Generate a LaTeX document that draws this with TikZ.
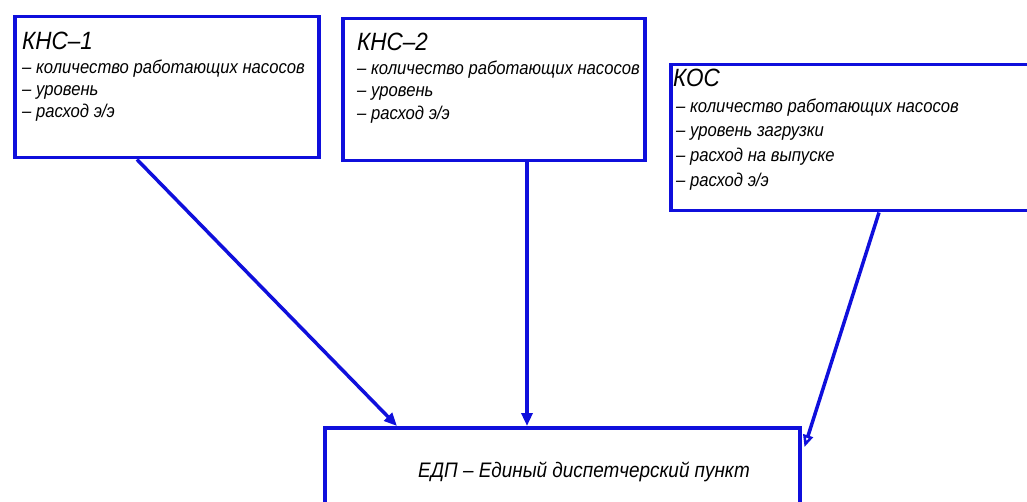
\documentclass[tikz,border=0pt]{standalone}
\usepackage{fontspec}
\setmainfont{Liberation Sans}[FakeStretch=0.9]
\usetikzlibrary{arrows.meta,calc}
\definecolor{boxblue}{RGB}{15,15,220}
\tikzset{
  box/.style={draw=boxblue, line width=3.5pt, inner sep=0pt, anchor=north west, fill=white},
  head/.style={anchor=base west, inner sep=0pt, font=\fontsize{25}{25}\selectfont\itshape},
  item/.style={anchor=base west, inner sep=0pt, font=\fontsize{18.5}{18.5}\selectfont\itshape},
  arr/.style={draw=boxblue, line width=3.5pt, -{Triangle[length=13pt,width=11pt]}},
  arro/.style={draw=boxblue, line width=3.5pt, -{Triangle[open,length=12pt,width=10pt,line width=2.5pt]}}
}
\begin{document}
\begin{tikzpicture}[x=1pt,y=-1pt]
\useasboundingbox (0,0) rectangle (1027,502);
\clip (0,0) rectangle (1027,502);
% boxes
\node[box, minimum width=304pt, minimum height=141pt] (k1) at (13,15) {};
\node[box, minimum width=302pt, minimum height=142pt] (k2) at (341,17) {};
\node[box, minimum width=366pt, minimum height=146pt] (k3) at (669,63) {};
\node[box, minimum width=475pt, minimum height=100pt] (e) at (323,426) {};
% texts box 1
\node[head] (k1t) at (22,50) {КНС–1};
\node[item] (k1a) at (22,74) {– количество работающих насосов};
\node[item] (k1b) at (22,96) {– уровень};
\node[item] (k1c) at (22,118) {– расход э/э};
% texts box 2
\node[head] (k2t) at (357,51) {КНС–2};
\node[item] (k2a) at (357,75) {– количество работающих насосов};
\node[item] (k2b) at (357,97) {– уровень};
\node[item] (k2c) at (357,120) {– расход э/э};
% texts box 3
\node[head] (k3t) at (673,87) {КОС};
\node[item] (k3a) at (676,113) {– количество работающих насосов};
\node[item] (k3b) at (676,137) {– уровень загрузки};
\node[item] (k3c) at (676,162) {– расход на выпуске};
\node[item] (k3d) at (676,187) {– расход э/э};
% bottom box text
\node[anchor=base west, inner sep=0pt, font=\fontsize{21}{21}\selectfont\itshape] (et) at (418,477) {ЕДП – Единый диспетчерский пункт};
% arrows
\draw[arr] ([xshift=124pt]k1.south west) -- ([xshift=74pt]e.north west);
\draw[arr] ([xshift=186pt]k2.south west) -- ([xshift=204pt]e.north west);
\draw[arro] ([xshift=210pt]k3.south west) -- ([xshift=3pt,yshift=-21pt]e.north east);
\end{tikzpicture}
\end{document}
